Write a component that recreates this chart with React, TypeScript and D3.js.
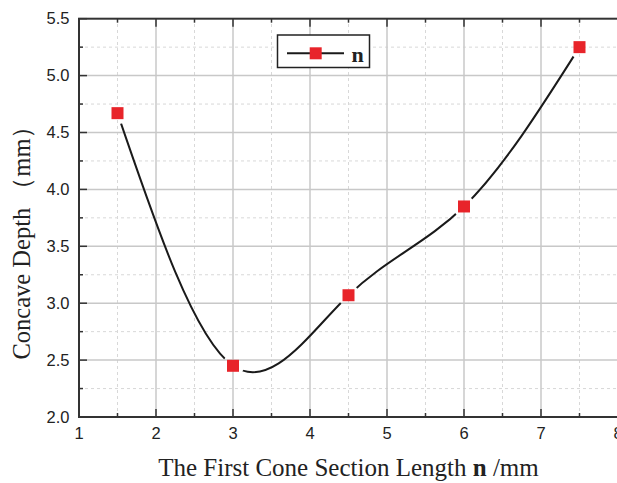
import React from "react";
import * as d3 from "d3";

// values
const lengths = [1.5, 3, 4.5, 6, 7.5];
const depths = [4.67, 2.45, 3.07, 3.85, 5.25];
const xTicks = [1, 2, 3, 4, 5, 6, 7, 8];
const yTicks = [2.0, 2.5, 3.0, 3.5, 4.0, 4.5, 5.0, 5.5];
const seriesName = "n";

const W = 617;
const H = 483;

const App = () => {
  const x = d3.scaleLinear().domain([1, 8]).range([79, 618]);
  const y = d3.scaleLinear().domain([2, 5.5]).range([417, 18.7]);

  const pts: [number, number][] = lengths.map((v, i) => [v, depths[i]]);
  const line = d3
    .line<[number, number]>()
    .x(d => x(d[0]))
    .y(d => y(d[1]))
    .curve(d3.curveNatural);

  const xMinor = d3.range(1.5, 8, 1);
  const yMinor = d3.range(2.25, 5.5, 0.5);
  const [x0, x1] = x.range();
  const [y0, y1] = y.range();
  const axisColor = "#333";

  return (
    <svg
      width={W}
      height={H}
      style={{ position: "absolute", left: 0, top: 0, background: "#fff" }}
    >
      <defs>
        <mask id="gaps">
          <rect x={0} y={0} width={W} height={H} fill="#fff" />
          {pts.map((d, i) => (
            <circle key={i} cx={x(d[0])} cy={y(d[1])} r={11} fill="#000" />
          ))}
        </mask>
      </defs>

      {/* minor grid */}
      {xMinor.map(v => (
        <line key={"xm" + v} x1={x(v)} x2={x(v)} y1={y0} y2={y1}
          stroke="#d8d8d8" strokeWidth={1} strokeDasharray="3,3" />
      ))}
      {yMinor.map(v => (
        <line key={"ym" + v} x1={x0} x2={x1} y1={y(v)} y2={y(v)}
          stroke="#d8d8d8" strokeWidth={1} strokeDasharray="3,3" />
      ))}
      {/* major grid */}
      {xTicks.slice(1, -1).map(v => (
        <line key={"xg" + v} x1={x(v)} x2={x(v)} y1={y0} y2={y1}
          stroke="#c8c8c8" strokeWidth={1.5} />
      ))}
      {yTicks.slice(1, -1).map(v => (
        <line key={"yg" + v} x1={x0} x2={x1} y1={y(v)} y2={y(v)}
          stroke="#c8c8c8" strokeWidth={1.5} />
      ))}

      {/* ticks, inward on all sides */}
      {xTicks.map(v => (
        <g key={"xt" + v}>
          <line x1={x(v)} x2={x(v)} y1={y0} y2={y0 - 8} stroke={axisColor} strokeWidth={1.5} />
          <line x1={x(v)} x2={x(v)} y1={y1} y2={y1 + 8} stroke={axisColor} strokeWidth={1.5} />
        </g>
      ))}
      {xMinor.map(v => (
        <g key={"xmt" + v}>
          <line x1={x(v)} x2={x(v)} y1={y0} y2={y0 - 4} stroke={axisColor} strokeWidth={1.5} />
          <line x1={x(v)} x2={x(v)} y1={y1} y2={y1 + 4} stroke={axisColor} strokeWidth={1.5} />
        </g>
      ))}
      {yTicks.map(v => (
        <line key={"yt" + v} x1={x0} x2={x0 + 8} y1={y(v)} y2={y(v)} stroke={axisColor} strokeWidth={1.5} />
      ))}
      {yMinor.map(v => (
        <line key={"ymt" + v} x1={x0} x2={x0 + 4} y1={y(v)} y2={y(v)} stroke={axisColor} strokeWidth={1.5} />
      ))}

      {/* frame */}
      <rect x={x0} y={y1} width={x1 - x0} height={y0 - y1} fill="none" stroke={axisColor} strokeWidth={2} />

      {/* tick labels */}
      {xTicks.map(v => (
        <text key={"xl" + v} x={x(v)} y={439} textAnchor="middle"
          fontFamily="'Liberation Sans', Arial, sans-serif" fontSize={16.5} fill="#222">
          {d3.format("d")(v)}
        </text>
      ))}
      {yTicks.map(v => (
        <text key={"yl" + v} x={69.5} y={y(v)} dy="0.35em" textAnchor="end"
          fontFamily="'Liberation Sans', Arial, sans-serif" fontSize={16.5} fill="#222">
          {d3.format(".1f")(v)}
        </text>
      ))}

      {/* series */}
      <path d={line(pts) ?? ""} fill="none" stroke="#1a1a1a" strokeWidth={2} mask="url(#gaps)" />
      {pts.map((d, i) => (
        <rect key={"m" + i} x={x(d[0]) - 6} y={y(d[1]) - 6} width={12} height={12} fill="#e8242a" />
      ))}

      {/* legend */}
      <rect x={277.5} y={35} width={92} height={32.5} fill="#fff" stroke="#222" strokeWidth={1.5} />
      <line x1={287} x2={344} y1={53.3} y2={53.3} stroke="#1a1a1a" strokeWidth={2} />
      <rect x={309.7} y={47.3} width={12} height={12} fill="#e8242a" />
      <text x={351.5} y={62} fontFamily="'Liberation Serif', 'Times New Roman', serif"
        fontWeight="bold" fontSize={22} fill="#222">
        {seriesName}
      </text>

      {/* axis titles */}
      <text x={348.5} y={476} textAnchor="middle"
        fontFamily="'Liberation Serif', 'Times New Roman', serif" fontSize={25} fill="#222">
        The First Cone Section Length <tspan fontWeight="bold">{seriesName}</tspan> /mm
      </text>
      <text transform="translate(30,236.5) rotate(-90)" textAnchor="middle"
        fontFamily="'Liberation Serif', 'Times New Roman', serif" fontSize={24.5} fill="#222">
        Concave Depth （mm）
      </text>
    </svg>
  );
};

export default App;
